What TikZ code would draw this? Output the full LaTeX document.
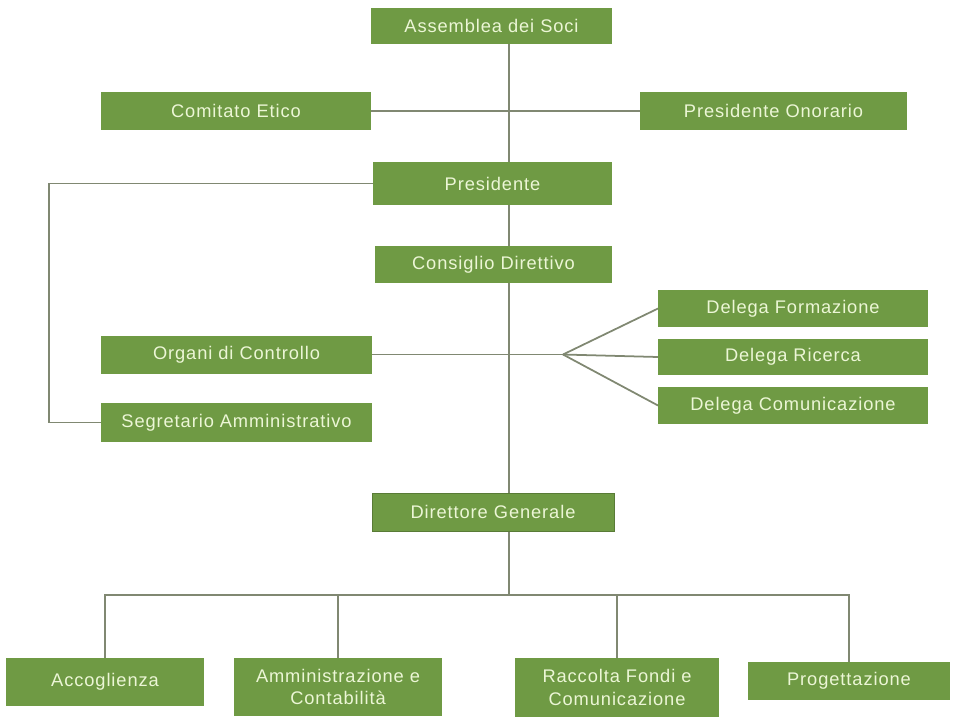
\documentclass[tikz,border=0pt]{standalone}
\usepackage{fontspec}
\setmainfont[LetterSpace=5]{Liberation Sans}
\usetikzlibrary{positioning,backgrounds}

\definecolor{boxgreen}{RGB}{111,154,68}
\definecolor{boxtext}{RGB}{236,246,214}
\definecolor{linegrey}{RGB}{128,136,114}

\begin{document}
\begin{tikzpicture}[x=0.02cm, y=-0.02cm,
  box/.style={rectangle, fill=boxgreen, text=boxtext, inner sep=0pt, outer sep=0pt, align=center, font=\fontsize{10.4}{13}\selectfont},
  conn/.style={draw=linegrey, line width=1pt}]

  \useasboundingbox (0,0) rectangle (961,718);

  % vertici
  \node[box, minimum width=4.82cm, minimum height=0.72cm] (asm) at (491.5,26) {Assemblea dei Soci};
  \node[box, minimum width=5.40cm, minimum height=0.76cm] (etico) at (236,111) {Comitato Etico};
  \node[box, minimum width=5.34cm, minimum height=0.76cm] (onor) at (773.5,111) {Presidente Onorario};
  \node[box, minimum width=4.78cm, minimum height=0.86cm] (pres) at (492.5,183.5) {Presidente};
  \node[box, minimum width=4.74cm, minimum height=0.74cm] (cons) at (493.5,264.5) {Consiglio Direttivo};

  % controllo e deleghe
  \node[box, minimum width=5.42cm, minimum height=0.76cm] (organi) at (236.5,354.5) {Organi di Controllo};
  \node[box, minimum width=5.42cm, minimum height=0.78cm] (segr) at (236.5,422.5) {Segretario Amministrativo};
  \node[box, minimum width=5.40cm, minimum height=0.74cm] (delF) at (793,308.5) {Delega Formazione};
  \node[box, minimum width=5.40cm, minimum height=0.72cm] (delR) at (793,357) {Delega Ricerca};
  \node[box, minimum width=5.40cm, minimum height=0.74cm] (delC) at (793,405.5) {Delega Comunicazione};

  % direzione
  \node[box, draw=boxgreen!80!black, line width=0.5pt, minimum width=4.84cm, minimum height=0.76cm] (dir) at (493,512) {Direttore Generale};
  \node[box, minimum width=3.96cm, minimum height=0.96cm] (acc) at (105,682) {Accoglienza};
  \node[box, minimum width=4.16cm, minimum height=1.16cm] (amm) at (338,687) {Amministrazione e\\Contabilità};
  \node[box, minimum width=4.08cm, minimum height=1.18cm] (racc) at (617,687.5) {Raccolta Fondi e\\Comunicazione};
  \node[box, minimum width=4.04cm, minimum height=0.76cm] (prog) at (849,681) {Progettazione};

  \coordinate (trunk) at (509,0);
  \coordinate (lft) at (49,0);
  \coordinate (fan) at (563,354.5);
  \coordinate (bus) at (0,595);

  \begin{scope}[on background layer]
    \draw[conn] (asm.south -| trunk) -- (dir.north -| trunk);
    \draw[conn] (etico.east) -- (onor.west);
    \draw[conn] (pres.west) -- (pres.west -| lft) |- (segr.west);
    \draw[conn] (organi.east) -- (fan);
    \draw[conn] (fan) -- (delF.west);
    \draw[conn] (fan) -- (delR.west);
    \draw[conn] (fan) -- (delC.west);
    \draw[conn] (dir.south -| trunk) -- (bus -| trunk);
    \draw[conn] (acc.north) |- (bus -| prog.north) -- (prog.north);
    \draw[conn] (amm.north) -- (amm.north |- bus);
    \draw[conn] (racc.north) -- (racc.north |- bus);
  \end{scope}

\end{tikzpicture}
\end{document}
